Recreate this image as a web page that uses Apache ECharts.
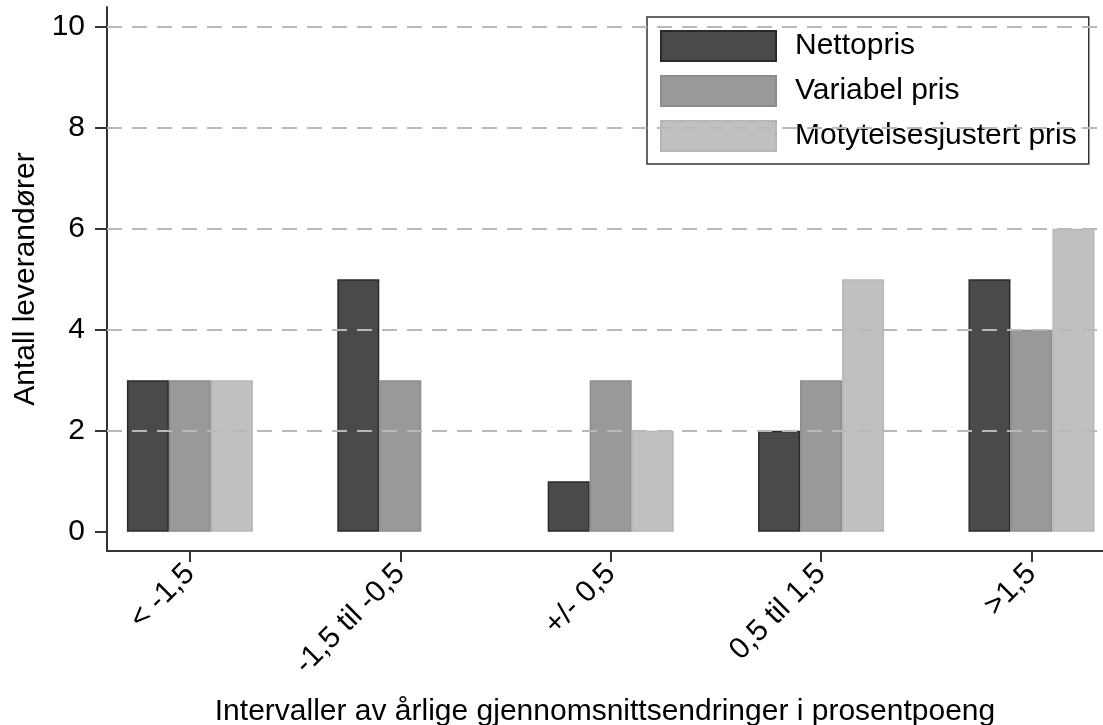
<!DOCTYPE html>
<html>
<head>
<meta charset="utf-8">
<script src="https://cdn.jsdelivr.net/npm/echarts@6/dist/echarts.min.js"></script>
<style>
  html, body { margin: 0; padding: 0; background: #fff; }
  #chart { width: 1103px; height: 725px; }
</style>
</head>
<body>
<div id="chart"></div>
<script>
// data
var categories = ['< -1,5', '-1,5 til -0,5', '+/- 0,5', '0,5 til 1,5', '>1,5'];
var nettopris = [3, 5, 1, 2, 5];
var variabelPris = [3, 3, 3, 3, 4];
var motytelsesPris = [3, 0, 2, 5, 6];
var yTicks = [0, 2, 4, 6, 8, 10];
var gridValues = [2, 4, 6, 8, 10];

var font = 'Liberation Sans, Arial, sans-serif';
var catIdx = categories.map(function (c, i) { return i; });

// [index, value] pairs; an empty bar gets no outline
function pts(arr) {
  return arr.map(function (v, i) {
    if (v === 0) return { value: [i, v], itemStyle: { borderWidth: 0 } };
    return [i, v];
  });
}

var chart = echarts.init(document.getElementById('chart'));

function bar(name, values, color, border) {
  return {
    name: name,
    type: 'bar',
    data: pts(values),
    barWidth: 42,
    barGap: '0%',
    itemStyle: { color: color, borderColor: border, borderWidth: 1.5 }
  };
}

var series = [
  bar('Nettopris', nettopris, '#4a4a4a', '#2a2a2a'),
  bar('Variabel pris', variabelPris, '#999999', '#8c8c8c'),
  bar('Motytelsesjustert pris', motytelsesPris, '#c0c0c0', '#b6b6b6')
];
// dashed grid lines
series[0].markLine = {
  silent: true,
  symbol: 'none',
  label: { show: false },
  lineStyle: { color: '#b9b9b9', width: 2, type: [15, 10] },
  data: gridValues.map(function (v) { return { yAxis: v }; })
};
series[0].z = 1;

chart.setOption({
  animation: false,
  textStyle: { fontFamily: font },
  grid: { left: 107, right: 0, top: 7, bottom: 174, containLabel: false, outerBoundsMode: 'none' },
  legend: {
    orient: 'vertical',
    left: 647,
    top: 17,
    padding: [13, 12, 12, 13],
    itemWidth: 115,
    itemHeight: 30,
    itemGap: 13,
    icon: 'rect',
    backgroundColor: '#fff',
    borderColor: '#333',
    borderWidth: 1.5,
    borderRadius: 0,
    textStyle: { fontSize: 30, color: '#000', fontFamily: font, padding: [0, 0, 0, 14] },
    data: ['Nettopris', 'Variabel pris', 'Motytelsesjustert pris']
  },
  xAxis: {
    type: 'value',
    min: -0.394,
    max: 4.34,
    name: 'Intervaller av årlige gjennomsnittsendringer i prosentpoeng',
    nameLocation: 'middle',
    nameGap: 146,
    nameTextStyle: { fontSize: 30, color: '#000', fontFamily: font },
    axisLine: { show: true, onZero: false, lineStyle: { color: '#333', width: 2 } },
    axisTick: { show: true, length: 11, customValues: catIdx, lineStyle: { color: '#333', width: 2 } },
    axisLabel: {
      customValues: catIdx,
      rotate: 45,
      margin: 18,
      fontSize: 30,
      color: '#000',
      fontFamily: font,
      formatter: function (v) { return categories[Math.round(v)]; }
    },
    splitLine: { show: false }
  },
  yAxis: {
    type: 'value',
    min: -0.38,
    max: 10.39,
    name: 'Antall leverandører',
    nameLocation: 'middle',
    nameGap: 63,
    nameTextStyle: { fontSize: 30, color: '#000', fontFamily: font },
    axisLine: { show: true, onZero: false, lineStyle: { color: '#333', width: 2 } },
    axisTick: { show: true, length: 12, customValues: yTicks, lineStyle: { color: '#333', width: 2 } },
    axisLabel: { customValues: yTicks, margin: 22, fontSize: 30, color: '#000', fontFamily: font },
    splitLine: { show: false }
  },
  series: series
});
</script>
</body>
</html>
